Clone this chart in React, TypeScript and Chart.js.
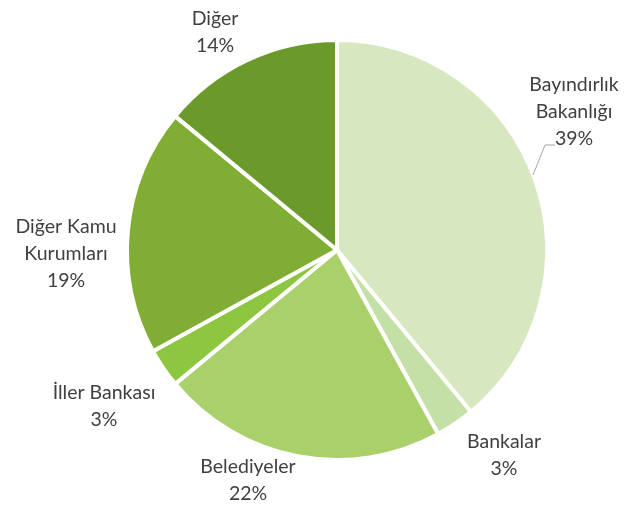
import React, { useEffect, useRef } from "react";
import { Chart, registerables } from "chart.js";

Chart.register(...registerables);

const categories: string[][] = [
  ["Bayındırlık", "Bakanlığı"],
  ["Bankalar"],
  ["Belediyeler"],
  ["İller Bankası"],
  ["Diğer Kamu", "Kurumları"],
  ["Diğer"],
];
const values: number[] = [39, 3, 22, 3, 19, 14];
const colors: string[] = ["#d7e7c0", "#c5e0a6", "#a9d06b", "#8dc63f", "#80ad33", "#6b9a2b"];

// label centre offsets (from pie centre), for the outside labels
const labelOffsets: [number, number][] = [
  [237, -138],
  [167, 205],
  [-89, 230],
  [-233, 156],
  [-271, 4],
  [-122, -218],
];

const labelPlugin = {
  id: "outsideLabels",
  afterDraw(chart: any) {
    const ctx = chart.ctx;
    const meta = chart.getDatasetMeta(0);
    const arc0 = meta.data[0];
    if (!arc0) return;
    const cx = arc0.x;
    const cy = arc0.y;
    const total = values.reduce((a, b) => a + b, 0);
    ctx.save();
    ctx.fillStyle = "#404040";
    ctx.font = "19.5px Lato, 'Open Sans', sans-serif";
    ctx.textAlign = "center";
    ctx.textBaseline = "middle";
    const lh = 27;
    categories.forEach((lines, i) => {
      const [dx, dy] = labelOffsets[i];
      const all = [...lines, Math.round((values[i] / total) * 100) + "%"];
      const x = cx + dx;
      const y0 = cy + dy - ((all.length - 1) * lh) / 2;
      all.forEach((t, j) => ctx.fillText(t, x, y0 + j * lh));
    });
    // leader line for first slice
    ctx.strokeStyle = "#a6a6a6";
    ctx.lineWidth = 1;
    ctx.beginPath();
    ctx.moveTo(cx + 196, cy - 75);
    ctx.lineTo(cx + 208, cy - 105);
    ctx.lineTo(cx + 218, cy - 105);
    ctx.stroke();
    ctx.restore();
  },
};

export default function App() {
  const ref = useRef<HTMLCanvasElement>(null);
  useEffect(() => {
    document.body.style.margin = "0";
    const chart = new Chart(ref.current!, {
      type: "pie",
      data: {
        labels: categories.map((c) => c.join(" ")),
        datasets: [
          {
            data: values,
            backgroundColor: colors,
            borderColor: "#ffffff",
            borderWidth: 4,
          },
        ],
      },
      options: {
        animation: false,
        responsive: false,
        radius: 210,
        layout: { padding: { left: 46, right: 0, top: 0, bottom: 7 } },
        plugins: { legend: { display: false }, tooltip: { enabled: false } },
      },
      plugins: [labelPlugin],
    });
    return () => chart.destroy();
  }, []);
  return (
    <div style={{ width: 628, height: 507, background: "#fff" }}>
      <canvas ref={ref} width={628} height={507} />
    </div>
  );
}
